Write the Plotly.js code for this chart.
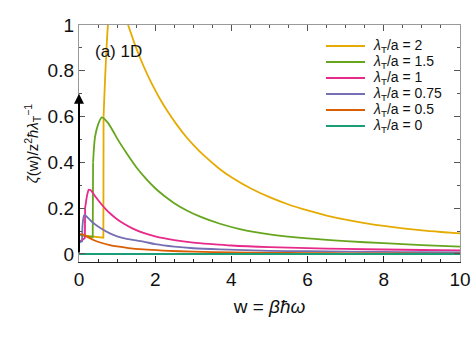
<!DOCTYPE html>
<html>
<head>
<meta charset="utf-8">
<script src="https://cdn.plot.ly/plotly-3.0.1.min.js"></script>
<style>
  html, body { margin: 0; padding: 0; background: #fff; }
  #chart { width: 473px; height: 340px; }
</style>
</head>
<body>
<div id="chart"></div>
<script>
// Spectral function zeta(w) of a 1D system for several lambda_T/a values
const ratioLabels = ['2', '1.5', '1', '0.75', '0.5', '0'];
const seriesColors = ['#e6ab02', '#66a61e', '#e7298a', '#7570b3', '#d95f02', '#1b9e77'];

const w_2 = [0, 0.2, 0.4, 0.64, 0.645, 0.70, 0.77, 0.85, 0.95, 1.05, 1.15, 1.29, 1.5, 1.69, 1.9, 2.13, 2.35, 2.56, 2.8, 3.0, 3.3, 3.7, 4.0, 4.5, 5, 5.5, 6, 6.5, 7, 7.5, 8, 8.5, 9, 9.5, 10];
const z_2 = [0.083, 0.079, 0.075, 0.071, 0.60, 0.82, 1.02, 1.10, 1.13, 1.12, 1.07, 1.0, 0.90, 0.822, 0.747, 0.676, 0.617, 0.566, 0.514, 0.477, 0.427, 0.370, 0.335, 0.287, 0.248, 0.216, 0.19, 0.168, 0.15, 0.135, 0.1225, 0.112, 0.103, 0.096, 0.09];

const w_15 = [0, 0.1, 0.2, 0.36, 0.37, 0.42, 0.5, 0.6, 0.75, 0.9, 1.0, 1.25, 1.5, 1.75, 2.0, 2.25, 2.5, 2.83, 3.18, 3.7, 4.22, 5, 6, 7, 8, 9, 10];
const z_15 = [0.085, 0.08, 0.077, 0.074, 0.40, 0.51, 0.565, 0.597, 0.575, 0.535, 0.505, 0.44, 0.38, 0.33, 0.287, 0.252, 0.222, 0.19, 0.163, 0.132, 0.109, 0.086, 0.068, 0.056, 0.047, 0.039, 0.032];

const w_1 = [0, 0.05, 0.1, 0.155, 0.16, 0.22, 0.26, 0.3, 0.35, 0.4, 0.5, 0.6, 0.7, 0.81, 1.0, 1.18, 1.4, 1.69, 2.0, 2.5, 3.0, 3.5, 4.0, 5, 6, 7, 8, 9, 10];
const z_1 = [0.055, 0.058, 0.062, 0.07, 0.20, 0.262, 0.281, 0.279, 0.27, 0.258, 0.236, 0.215, 0.196, 0.178, 0.152, 0.132, 0.112, 0.092, 0.077, 0.061, 0.05, 0.043, 0.037, 0.03, 0.0255, 0.022, 0.0195, 0.0175, 0.016];

const w_075 = [0, 0.04, 0.08, 0.09, 0.11, 0.14, 0.17, 0.22, 0.3, 0.4, 0.55, 0.81, 1.0, 1.25, 1.69, 2.0, 2.5, 3.0, 3.7, 5, 6, 7, 8, 9, 10];
const z_075 = [0.05, 0.052, 0.055, 0.12, 0.155, 0.17, 0.168, 0.16, 0.147, 0.132, 0.115, 0.09, 0.077, 0.066, 0.054, 0.043, 0.032, 0.025, 0.02, 0.014, 0.012, 0.01, 0.009, 0.008, 0.007];

const w_05 = [0, 0.05, 0.1, 0.2, 0.38, 0.6, 0.81, 1.0, 1.3, 1.69, 2.2, 3.0, 4.0, 5, 6, 7, 8, 9, 10];
const z_05 = [0.085, 0.087, 0.085, 0.077, 0.061, 0.048, 0.039, 0.033, 0.026, 0.02, 0.015, 0.01, 0.007, 0.005, 0.004, 0.003, 0.003, 0.002, 0.002];

const w_0 = [0, 10];
const z_0 = [0, 0];

const wSets = [w_2, w_15, w_1, w_075, w_05, w_0];
const zSets = [z_2, z_15, z_1, z_075, z_05, z_0];
// index of the point at the top of each curve's jump: straight segments before, smooth after
const jumpTop = [4, 4, 4, 4, 0, 0];

const deltaHeight = 0.70;   // weight of the delta peak at w = 0

const traces = [];
wSets.forEach((ws, i) => {
  const k = jumpTop[i];
  if (k > 0) {
    traces.push({
      x: ws.slice(0, k + 1), y: zSets[i].slice(0, k + 1),
      type: 'scatter', mode: 'lines', showlegend: false, hoverinfo: 'skip',
      line: { color: seriesColors[i], width: 1.8 }
    });
  }
  traces.push({
    x: ws.slice(k), y: zSets[i].slice(k),
    type: 'scatter', mode: 'lines', showlegend: false, hoverinfo: 'skip',
    line: { color: seriesColors[i], width: 1.8, shape: 'spline', smoothing: 0.8 }
  });
});

// ghost trace so that the top axis is drawn
traces.push({ x: [0], y: [null], xaxis: 'x2', yaxis: 'y', showlegend: false, hoverinfo: 'skip', mode: 'lines' });

const fontFam = 'Liberation Sans, Arial, sans-serif';

// plot box in pixels, used to place the key
const M = { l: 79, r: 13, t: 25, b: 78 };
const W = 473, H = 340;
const pw = W - M.l - M.r, ph = H - M.t - M.b;
const px = (x) => (x - M.l) / pw;
const py = (y) => (H - M.b - y) / ph;

const keyShapes = [], keyLabels = [];
ratioLabels.forEach((lab, i) => {
  const yy = 46 + 16 * i;
  keyShapes.push({
    type: 'line', xref: 'paper', yref: 'paper',
    x0: px(326), x1: px(365), y0: py(yy), y1: py(yy),
    line: { color: seriesColors[i], width: 1.8 }
  });
  keyLabels.push({
    xref: 'paper', yref: 'paper', x: px(371), y: py(yy),
    xanchor: 'left', yanchor: 'middle', showarrow: false,
    text: '<i>λ</i><sub>T</sub>/a = ' + lab,
    font: { family: fontFam, size: 14, color: '#111' }
  });
});

const layout = {
  width: W,
  height: H,
  margin: M,
  paper_bgcolor: '#fff',
  plot_bgcolor: '#fff',
  font: { family: fontFam, size: 16, color: '#111' },
  showlegend: false,
  xaxis: {
    range: [0, 10],
    tickvals: [0, 2, 4, 6, 8, 10],
    ticks: 'inside', ticklen: 6, tickcolor: '#222',
    minor: { dtick: 0.5, ticks: 'inside', ticklen: 3, tickcolor: '#222' },
    showline: true, linecolor: '#222', linewidth: 1.2,
    showgrid: false, zeroline: false,
    tickfont: { size: 19 },
    title: { text: 'w = <i>βħω</i>', font: { size: 19 }, standoff: 10 }
  },
  xaxis2: {
    overlaying: 'x', matches: 'x', side: 'top',
    range: [0, 10],
    tickvals: [0, 2, 4, 6, 8, 10],
    ticks: 'inside', ticklen: 6, tickcolor: '#555',
    minor: { dtick: 0.5, ticks: 'inside', ticklen: 3, tickcolor: '#555' },
    showline: true, linecolor: '#999', linewidth: 1.2,
    showticklabels: false, showgrid: false, zeroline: false
  },
  yaxis: {
    range: [-0.035, 1],
    tickvals: [0, 0.2, 0.4, 0.6, 0.8, 1],
    ticktext: ['0', '0.2', '0.4', '0.6', '0.8', '1'],
    ticks: 'inside', ticklen: 6, tickcolor: '#555',
    minor: { dtick: 0.1, ticks: 'inside', ticklen: 3, tickcolor: '#555' },
    showline: true, linecolor: '#999', linewidth: 1.2, mirror: 'ticks',
    showgrid: false, zeroline: false,
    tickfont: { size: 19 },
    title: { text: '<i>ζ</i>(w)/z<sup>2</sup><i>ħλ</i><sub>T</sub><sup>−1</sup>', font: { size: 15 }, standoff: 5 }
  },
  shapes: keyShapes,
  annotations: [
    {
      x: 0, y: deltaHeight, ax: 0, ay: 0,
      xref: 'x', yref: 'y', axref: 'x', ayref: 'y',
      showarrow: true, arrowhead: 2, arrowsize: 1, arrowwidth: 2,
      arrowcolor: '#000', text: ''
    },
    {
      x: 0.36, y: 0.885, xref: 'x', yref: 'y',
      xanchor: 'left', yanchor: 'middle',
      text: '(a) 1D', showarrow: false,
      font: { family: fontFam, size: 17, color: '#111' }
    }
  ].concat(keyLabels)
};

Plotly.newPlot('chart', traces, layout, { staticPlot: true, displayModeBar: false });
</script>
</body>
</html>
